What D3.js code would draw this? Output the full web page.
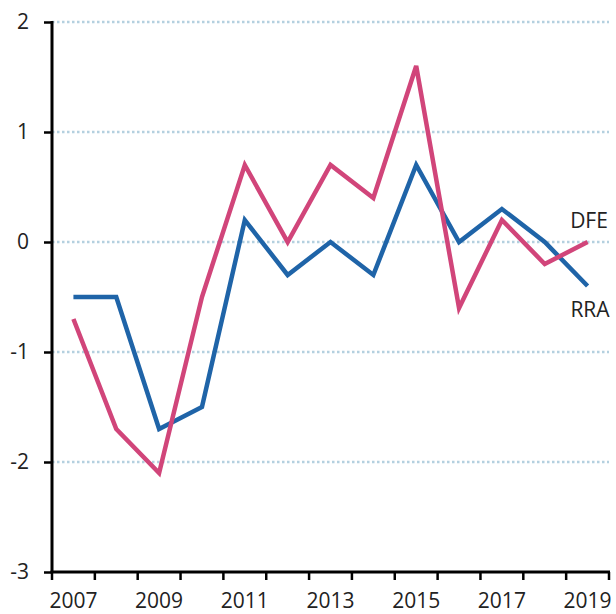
<!DOCTYPE html>
<html><head><meta charset="utf-8">
<script src="https://cdn.jsdelivr.net/npm/d3@7"></script>
<style>body{margin:0;background:#fff}svg{display:block}text{font-family:"Open Sans",sans-serif}</style>
</head><body>
<script>
const years = ["2007","2008","2009","2010","2011","2012","2013","2014","2015","2016","2017","2018","2019"];
const rra = [-0.5,-0.5,-1.7,-1.5,0.2,-0.3,0,-0.3,0.7,0,0.3,0,-0.4];
const dfe = [-0.7,-1.7,-2.1,-0.5,0.7,0,0.7,0.4,1.6,-0.6,0.2,-0.2,0];
const yTicks = [-3,-2,-1,0,1,2];
const xLabels = ["2007","2009","2011","2013","2015","2017","2019"];

const W=616,H=614;
const L=52,R=609,T=22,B=572;
const svg=d3.select("body").append("svg").attr("width",W).attr("height",H);
const x=d3.scaleBand().domain(years).range([L,R]);
const y=d3.scaleLinear().domain([-3,2]).range([B,T]);

// gridlines
svg.append("g").selectAll("line").data(yTicks.filter(d=>d>-3)).join("line")
  .attr("x1",L).attr("x2",R).attr("y1",d=>y(d)).attr("y2",d=>y(d))
  .attr("stroke","#b4d0df").attr("stroke-width",2.5).attr("stroke-dasharray","2.5,2.5");

const lineGen=d3.line().x((d,i)=>x(years[i])+x.bandwidth()/2).y(d=>y(d));
svg.append("path").datum(rra).attr("d",lineGen).attr("fill","none")
  .attr("stroke","#1f64a8").attr("stroke-width",4.5).attr("stroke-linejoin","miter");
svg.append("path").datum(dfe).attr("d",lineGen).attr("fill","none")
  .attr("stroke","#d1457a").attr("stroke-width",4.5).attr("stroke-linejoin","miter");

// y axis
const yAxis=d3.axisLeft(y).tickValues(yTicks).tickSize(8).tickPadding(14).tickFormat(d=>String(d));
const gy=svg.append("g").attr("transform",`translate(${L},0)`).call(yAxis);
gy.select(".domain").attr("stroke","#000").attr("stroke-width",3).attr("d",`M0,${T-1}V${B+1}`);
gy.selectAll(".tick line").attr("stroke","#000").attr("stroke-width",2.5);
gy.selectAll("text").attr("font-size",21).attr("fill","#222").attr("font-family","Open Sans, sans-serif").attr("dx",-1);

// x axis
const gx=svg.append("g").attr("transform",`translate(0,${B})`);
gx.append("line").attr("x1",L-1.5).attr("x2",R+1).attr("y1",0).attr("y2",0).attr("stroke","#000").attr("stroke-width",3);
const edges=years.map(d=>x(d)).concat([R]);
gx.selectAll("line.t").data(edges).join("line").attr("class","t")
  .attr("x1",d=>d).attr("x2",d=>d).attr("y1",0).attr("y2",8).attr("stroke","#000").attr("stroke-width",2.5);
gx.selectAll("text").data(xLabels).join("text")
  .attr("x",d=>x(d)+x.bandwidth()/2).attr("y",36).attr("text-anchor","middle")
  .attr("font-size",21).attr("fill","#222").text(d=>d);

// series labels
svg.append("text").attr("x",589).attr("y",228).attr("text-anchor","middle").attr("font-size",21).attr("fill","#222").text("DFE");
svg.append("text").attr("x",590).attr("y",317).attr("text-anchor","middle").attr("font-size",21).attr("fill","#222").text("RRA");
</script>
</body></html>
